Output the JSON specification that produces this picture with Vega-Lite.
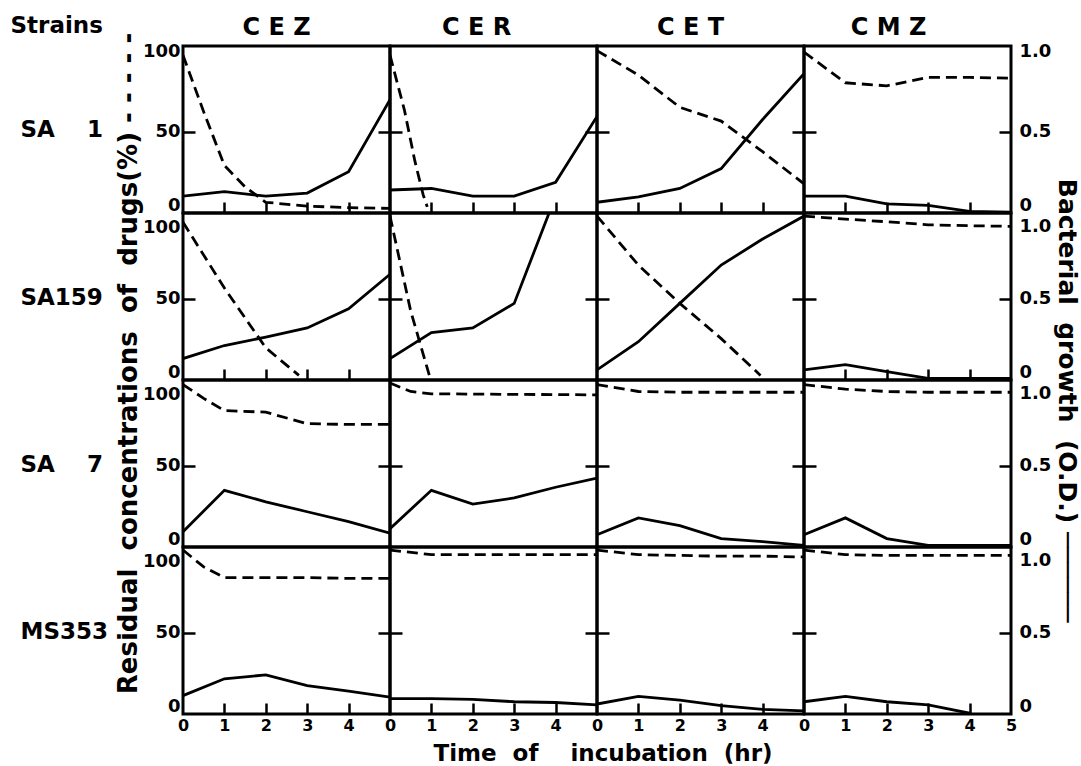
{
  "$schema": "https://vega.github.io/schema/vega-lite/v6.json",
  "background": "white",
  "padding": {"left": 8, "top": 13, "right": 2, "bottom": 2},
  "config": {
    "font": "DejaVu Sans",
    "view": {"stroke": "black", "strokeWidth": 3},
    "axis": {"domain": false, "grid": false, "tickColor": "black", "tickWidth": 2.5, "labelColor": "black", "labelFont": "DejaVu Sans", "labelFontWeight": "bold", "titleColor": "black", "titleFont": "DejaVu Sans", "titleFontWeight": "bold"},
    "line": {"color": "black", "strokeWidth": 2.8}
  },
  "datasets": {
    "conc": [
      {"s":"SA1","d":"CEZ","t":0,"v":100},{"s":"SA1","d":"CEZ","t":0.5,"v":63},{"s":"SA1","d":"CEZ","t":1,"v":28},{"s":"SA1","d":"CEZ","t":1.5,"v":14},{"s":"SA1","d":"CEZ","t":2,"v":4},{"s":"SA1","d":"CEZ","t":3,"v":1.5},{"s":"SA1","d":"CEZ","t":4,"v":0.5},{"s":"SA1","d":"CEZ","t":5,"v":0},
      {"s":"SA1","d":"CER","t":0,"v":100},{"s":"SA1","d":"CER","t":0.35,"v":64},{"s":"SA1","d":"CER","t":0.6,"v":31},{"s":"SA1","d":"CER","t":0.8,"v":9},{"s":"SA1","d":"CER","t":0.9,"v":1},
      {"s":"SA1","d":"CET","t":0,"v":103},{"s":"SA1","d":"CET","t":1,"v":87},{"s":"SA1","d":"CET","t":2,"v":66},{"s":"SA1","d":"CET","t":3,"v":57},{"s":"SA1","d":"CET","t":4,"v":37},{"s":"SA1","d":"CET","t":5,"v":16},
      {"s":"SA1","d":"CMZ","t":0,"v":102},{"s":"SA1","d":"CMZ","t":1,"v":82},{"s":"SA1","d":"CMZ","t":2,"v":80},{"s":"SA1","d":"CMZ","t":3,"v":85.5},{"s":"SA1","d":"CMZ","t":4,"v":85.5},{"s":"SA1","d":"CMZ","t":5,"v":85},
      {"s":"SA159","d":"CEZ","t":0,"v":100},{"s":"SA159","d":"CEZ","t":1,"v":57},{"s":"SA159","d":"CEZ","t":2,"v":18},{"s":"SA159","d":"CEZ","t":2.8,"v":0},
      {"s":"SA159","d":"CER","t":0,"v":104},{"s":"SA159","d":"CER","t":0.5,"v":42},{"s":"SA159","d":"CER","t":0.95,"v":0},
      {"s":"SA159","d":"CET","t":0,"v":104},{"s":"SA159","d":"CET","t":1,"v":72},{"s":"SA159","d":"CET","t":2,"v":47},{"s":"SA159","d":"CET","t":3,"v":24},{"s":"SA159","d":"CET","t":3.95,"v":0},
      {"s":"SA159","d":"CMZ","t":0,"v":104},{"s":"SA159","d":"CMZ","t":1,"v":102},{"s":"SA159","d":"CMZ","t":2,"v":100.3},{"s":"SA159","d":"CMZ","t":3,"v":98.3},{"s":"SA159","d":"CMZ","t":4,"v":97.7},{"s":"SA159","d":"CMZ","t":5,"v":97.3},
      {"s":"SA7","d":"CEZ","t":0,"v":103},{"s":"SA7","d":"CEZ","t":0.5,"v":94},{"s":"SA7","d":"CEZ","t":1,"v":86},{"s":"SA7","d":"CEZ","t":2,"v":85},{"s":"SA7","d":"CEZ","t":3,"v":77.5},{"s":"SA7","d":"CEZ","t":4,"v":77},{"s":"SA7","d":"CEZ","t":5,"v":77},
      {"s":"SA7","d":"CER","t":0,"v":104},{"s":"SA7","d":"CER","t":0.5,"v":98.5},{"s":"SA7","d":"CER","t":1,"v":97},{"s":"SA7","d":"CER","t":2,"v":96.8},{"s":"SA7","d":"CER","t":3,"v":96.6},{"s":"SA7","d":"CER","t":4,"v":96.5},{"s":"SA7","d":"CER","t":5,"v":96.3},
      {"s":"SA7","d":"CET","t":0,"v":103},{"s":"SA7","d":"CET","t":1,"v":98.5},{"s":"SA7","d":"CET","t":2,"v":98},{"s":"SA7","d":"CET","t":3,"v":98},{"s":"SA7","d":"CET","t":4,"v":98},{"s":"SA7","d":"CET","t":5,"v":98},
      {"s":"SA7","d":"CMZ","t":0,"v":103},{"s":"SA7","d":"CMZ","t":1,"v":100},{"s":"SA7","d":"CMZ","t":2,"v":98.5},{"s":"SA7","d":"CMZ","t":3,"v":98},{"s":"SA7","d":"CMZ","t":4,"v":98},{"s":"SA7","d":"CMZ","t":5,"v":98},
      {"s":"MS353","d":"CEZ","t":0,"v":104},{"s":"MS353","d":"CEZ","t":0.5,"v":93},{"s":"MS353","d":"CEZ","t":1,"v":86},{"s":"MS353","d":"CEZ","t":2,"v":86},{"s":"MS353","d":"CEZ","t":3,"v":86},{"s":"MS353","d":"CEZ","t":4,"v":85.5},{"s":"MS353","d":"CEZ","t":5,"v":85.5},
      {"s":"MS353","d":"CER","t":0,"v":104},{"s":"MS353","d":"CER","t":1,"v":101},{"s":"MS353","d":"CER","t":2,"v":101},{"s":"MS353","d":"CER","t":3,"v":101},{"s":"MS353","d":"CER","t":4,"v":101},{"s":"MS353","d":"CER","t":5,"v":101},
      {"s":"MS353","d":"CET","t":0,"v":104},{"s":"MS353","d":"CET","t":1,"v":101},{"s":"MS353","d":"CET","t":2,"v":100.5},{"s":"MS353","d":"CET","t":3,"v":100},{"s":"MS353","d":"CET","t":4,"v":100},{"s":"MS353","d":"CET","t":5,"v":99.5},
      {"s":"MS353","d":"CMZ","t":0,"v":104},{"s":"MS353","d":"CMZ","t":1,"v":101},{"s":"MS353","d":"CMZ","t":2,"v":100.5},{"s":"MS353","d":"CMZ","t":3,"v":100.5},{"s":"MS353","d":"CMZ","t":4,"v":100.5},{"s":"MS353","d":"CMZ","t":5,"v":100.5}
    ],
    "od": [
      {"s":"SA1","d":"CEZ","t":0,"v":0.08},{"s":"SA1","d":"CEZ","t":1,"v":0.11},{"s":"SA1","d":"CEZ","t":2,"v":0.08},{"s":"SA1","d":"CEZ","t":3,"v":0.10},{"s":"SA1","d":"CEZ","t":4,"v":0.24},{"s":"SA1","d":"CEZ","t":5,"v":0.71},
      {"s":"SA1","d":"CER","t":0,"v":0.12},{"s":"SA1","d":"CER","t":1,"v":0.13},{"s":"SA1","d":"CER","t":2,"v":0.08},{"s":"SA1","d":"CER","t":3,"v":0.08},{"s":"SA1","d":"CER","t":4,"v":0.17},{"s":"SA1","d":"CER","t":5,"v":0.60},
      {"s":"SA1","d":"CET","t":0,"v":0.04},{"s":"SA1","d":"CET","t":1,"v":0.075},{"s":"SA1","d":"CET","t":2,"v":0.13},{"s":"SA1","d":"CET","t":3,"v":0.26},{"s":"SA1","d":"CET","t":4,"v":0.58},{"s":"SA1","d":"CET","t":5,"v":0.88},
      {"s":"SA1","d":"CMZ","t":0,"v":0.08},{"s":"SA1","d":"CMZ","t":1,"v":0.08},{"s":"SA1","d":"CMZ","t":2,"v":0.03},{"s":"SA1","d":"CMZ","t":3,"v":0.02},{"s":"SA1","d":"CMZ","t":4,"v":-0.02},{"s":"SA1","d":"CMZ","t":5,"v":-0.025},
      {"s":"SA159","d":"CEZ","t":0,"v":0.11},{"s":"SA159","d":"CEZ","t":1,"v":0.195},{"s":"SA159","d":"CEZ","t":2,"v":0.25},{"s":"SA159","d":"CEZ","t":3,"v":0.31},{"s":"SA159","d":"CEZ","t":4,"v":0.435},{"s":"SA159","d":"CEZ","t":5,"v":0.66},
      {"s":"SA159","d":"CER","t":0,"v":0.11},{"s":"SA159","d":"CER","t":1,"v":0.28},{"s":"SA159","d":"CER","t":2,"v":0.31},{"s":"SA159","d":"CER","t":3,"v":0.47},{"s":"SA159","d":"CER","t":4,"v":1.17},
      {"s":"SA159","d":"CET","t":0,"v":0.036},{"s":"SA159","d":"CET","t":1,"v":0.22},{"s":"SA159","d":"CET","t":2,"v":0.47},{"s":"SA159","d":"CET","t":3,"v":0.72},{"s":"SA159","d":"CET","t":4,"v":0.89},{"s":"SA159","d":"CET","t":5,"v":1.04},
      {"s":"SA159","d":"CMZ","t":0,"v":0.036},{"s":"SA159","d":"CMZ","t":1,"v":0.07},{"s":"SA159","d":"CMZ","t":2,"v":0.025},{"s":"SA159","d":"CMZ","t":3,"v":-0.02},{"s":"SA159","d":"CMZ","t":4,"v":-0.02},{"s":"SA159","d":"CMZ","t":5,"v":-0.02},
      {"s":"SA7","d":"CEZ","t":0,"v":0.07},{"s":"SA7","d":"CEZ","t":1,"v":0.34},{"s":"SA7","d":"CEZ","t":2,"v":0.265},{"s":"SA7","d":"CEZ","t":3,"v":0.20},{"s":"SA7","d":"CEZ","t":4,"v":0.135},{"s":"SA7","d":"CEZ","t":5,"v":0.06},
      {"s":"SA7","d":"CER","t":0,"v":0.09},{"s":"SA7","d":"CER","t":1,"v":0.34},{"s":"SA7","d":"CER","t":2,"v":0.25},{"s":"SA7","d":"CER","t":3,"v":0.29},{"s":"SA7","d":"CER","t":4,"v":0.36},{"s":"SA7","d":"CER","t":5,"v":0.42},
      {"s":"SA7","d":"CET","t":0,"v":0.05},{"s":"SA7","d":"CET","t":1,"v":0.16},{"s":"SA7","d":"CET","t":2,"v":0.11},{"s":"SA7","d":"CET","t":3,"v":0.025},{"s":"SA7","d":"CET","t":4,"v":0.005},{"s":"SA7","d":"CET","t":5,"v":-0.02},
      {"s":"SA7","d":"CMZ","t":0,"v":0.05},{"s":"SA7","d":"CMZ","t":1,"v":0.16},{"s":"SA7","d":"CMZ","t":2,"v":0.025},{"s":"SA7","d":"CMZ","t":3,"v":-0.02},{"s":"SA7","d":"CMZ","t":4,"v":-0.02},{"s":"SA7","d":"CMZ","t":5,"v":-0.02},
      {"s":"MS353","d":"CEZ","t":0,"v":0.09},{"s":"MS353","d":"CEZ","t":1,"v":0.20},{"s":"MS353","d":"CEZ","t":2,"v":0.225},{"s":"MS353","d":"CEZ","t":3,"v":0.155},{"s":"MS353","d":"CEZ","t":4,"v":0.12},{"s":"MS353","d":"CEZ","t":5,"v":0.08},
      {"s":"MS353","d":"CER","t":0,"v":0.07},{"s":"MS353","d":"CER","t":1,"v":0.07},{"s":"MS353","d":"CER","t":2,"v":0.065},{"s":"MS353","d":"CER","t":3,"v":0.05},{"s":"MS353","d":"CER","t":4,"v":0.045},{"s":"MS353","d":"CER","t":5,"v":0.03},
      {"s":"MS353","d":"CET","t":0,"v":0.035},{"s":"MS353","d":"CET","t":1,"v":0.085},{"s":"MS353","d":"CET","t":2,"v":0.06},{"s":"MS353","d":"CET","t":3,"v":0.025},{"s":"MS353","d":"CET","t":4,"v":0.0},{"s":"MS353","d":"CET","t":5,"v":-0.01},
      {"s":"MS353","d":"CMZ","t":0,"v":0.05},{"s":"MS353","d":"CMZ","t":1,"v":0.085},{"s":"MS353","d":"CMZ","t":2,"v":0.05},{"s":"MS353","d":"CMZ","t":3,"v":0.03},{"s":"MS353","d":"CMZ","t":4,"v":-0.025}
    ]
  },
  "columns": 4,
  "spacing": 0,
  "bounds": "flush",
  "concat": [
    {"width": 207, "height": 167, "resolve": {"scale": {"y": "independent"}, "axis": {"x": "independent"}},
     "layer": [
      {"data": {"name": "conc"}, "transform": [{"filter": "datum.s==='SA1' && datum.d==='CEZ'"}], "mark": {"type": "line", "strokeDash": [11, 6], "clip": true},
       "encoding": {"x": {"field": "t", "type": "quantitative", "scale": {"domain": [0, 5], "nice": false}, "axis": {"values": [1, 2, 3, 4], "labels": false, "tickSize": -11, "title": "SA\u00a0\u00a0\u00a0\u00a01", "titleX": -163, "titleY": -84, "titleAlign": "left", "titleBaseline": "middle", "titleAngle": 0, "titleFontSize": 23}},
                    "y": {"field": "v", "type": "quantitative", "scale": {"domain": [-3, 106], "nice": false, "zero": false}, "axis": {"values": [0, 50, 100], "tickSize": -12, "tickOpacity": {"condition": {"test": "datum.value===50", "value": 1}, "value": 0}, "labelOffset": {"condition": [{"test": "datum.value===0", "value": -3}, {"test": "datum.value===100", "value": -4}], "value": 0}, "labelFontSize": 18, "labelPadding": 15, "labelBaseline": "middle", "title": "Strains", "titleAngle": 0, "titleAlign": "left", "titleBaseline": "middle", "titleX": -173, "titleY": -20.5, "titleFontSize": 23}}}},
      {"data": {"name": "od"}, "transform": [{"filter": "datum.s==='SA1' && datum.d==='CEZ'"}], "mark": {"type": "line", "clip": true},
       "encoding": {"x": {"field": "t", "type": "quantitative", "axis": {"orient": "top", "ticks": false, "labels": false, "domain": false, "title": "C\u00a0E\u00a0Z", "titleX": 93, "titleY": -19, "titleAlign": "center", "titleBaseline": "middle", "titleAngle": 0, "titleFontSize": 24}},
                    "y": {"field": "v", "type": "quantitative", "scale": {"domain": [-0.03, 1.06], "nice": false, "zero": false}, "axis": {"orient": "right", "values": [0.5], "labels": false, "tickSize": -12, "title": null}}}}
     ]},
    {"width": 207, "height": 167, "resolve": {"scale": {"y": "independent"}, "axis": {"x": "independent"}},
     "layer": [
      {"data": {"name": "conc"}, "transform": [{"filter": "datum.s==='SA1' && datum.d==='CER'"}], "mark": {"type": "line", "strokeDash": [11, 6], "clip": true},
       "encoding": {"x": {"field": "t", "type": "quantitative", "scale": {"domain": [0, 5], "nice": false}, "axis": {"values": [1, 2, 3, 4], "labels": false, "tickSize": -11, "title": null}},
                    "y": {"field": "v", "type": "quantitative", "scale": {"domain": [-3, 106], "nice": false, "zero": false}, "axis": {"values": [50], "labels": false, "tickSize": -12, "title": null}}}},
      {"data": {"name": "od"}, "transform": [{"filter": "datum.s==='SA1' && datum.d==='CER'"}], "mark": {"type": "line", "clip": true},
       "encoding": {"x": {"field": "t", "type": "quantitative", "axis": {"orient": "top", "ticks": false, "labels": false, "domain": false, "title": "C\u00a0E\u00a0R", "titleX": 86, "titleY": -19, "titleAlign": "center", "titleBaseline": "middle", "titleAngle": 0, "titleFontSize": 24}},
                    "y": {"field": "v", "type": "quantitative", "scale": {"domain": [-0.03, 1.06], "nice": false, "zero": false}, "axis": {"orient": "right", "values": [0.5], "labels": false, "tickSize": -12, "title": null}}}}
     ]},
    {"width": 207, "height": 167, "resolve": {"scale": {"y": "independent"}, "axis": {"x": "independent"}},
     "layer": [
      {"data": {"name": "conc"}, "transform": [{"filter": "datum.s==='SA1' && datum.d==='CET'"}], "mark": {"type": "line", "strokeDash": [11, 6], "clip": true},
       "encoding": {"x": {"field": "t", "type": "quantitative", "scale": {"domain": [0, 5], "nice": false}, "axis": {"values": [1, 2, 3, 4], "labels": false, "tickSize": -11, "title": null}},
                    "y": {"field": "v", "type": "quantitative", "scale": {"domain": [-3, 106], "nice": false, "zero": false}, "axis": {"values": [50], "labels": false, "tickSize": -12, "title": null}}}},
      {"data": {"name": "od"}, "transform": [{"filter": "datum.s==='SA1' && datum.d==='CET'"}], "mark": {"type": "line", "clip": true},
       "encoding": {"x": {"field": "t", "type": "quantitative", "axis": {"orient": "top", "ticks": false, "labels": false, "domain": false, "title": "C\u00a0E\u00a0T", "titleX": 93, "titleY": -19, "titleAlign": "center", "titleBaseline": "middle", "titleAngle": 0, "titleFontSize": 24}},
                    "y": {"field": "v", "type": "quantitative", "scale": {"domain": [-0.03, 1.06], "nice": false, "zero": false}, "axis": {"orient": "right", "values": [0.5], "labels": false, "tickSize": -12, "title": null}}}}
     ]},
    {"width": 207, "height": 167, "resolve": {"scale": {"y": "independent"}, "axis": {"x": "independent"}},
     "layer": [
      {"data": {"name": "conc"}, "transform": [{"filter": "datum.s==='SA1' && datum.d==='CMZ'"}], "mark": {"type": "line", "strokeDash": [11, 6], "clip": true},
       "encoding": {"x": {"field": "t", "type": "quantitative", "scale": {"domain": [0, 5], "nice": false}, "axis": {"values": [1, 2, 3, 4], "labels": false, "tickSize": -11, "title": null}},
                    "y": {"field": "v", "type": "quantitative", "scale": {"domain": [-3, 106], "nice": false, "zero": false}, "axis": {"values": [50], "labels": false, "tickSize": -12, "title": null}}}},
      {"data": {"name": "od"}, "transform": [{"filter": "datum.s==='SA1' && datum.d==='CMZ'"}], "mark": {"type": "line", "clip": true},
       "encoding": {"x": {"field": "t", "type": "quantitative", "axis": {"orient": "top", "ticks": false, "labels": false, "domain": false, "title": "C\u00a0M\u00a0Z", "titleX": 84, "titleY": -19, "titleAlign": "center", "titleBaseline": "middle", "titleAngle": 0, "titleFontSize": 24}},
                    "y": {"field": "v", "type": "quantitative", "scale": {"domain": [-0.03, 1.06], "nice": false, "zero": false}, "axis": {"orient": "right", "values": [0, 0.5, 1], "tickSize": -12, "tickOpacity": {"condition": {"test": "datum.value===0.5", "value": 1}, "value": 0}, "labelOffset": {"condition": [{"test": "datum.value===0", "value": -3}, {"test": "datum.value===1", "value": -4}], "value": 0}, "labelExpr": "datum.value===0 ? '0' : format(datum.value, '.1f')", "labelFontSize": 18, "labelPadding": 20, "labelBaseline": "middle", "title": null}}}}
     ]},
    {"width": 207, "height": 167, "resolve": {"scale": {"y": "independent"}, "axis": {"x": "independent"}},
     "layer": [
      {"data": {"name": "conc"}, "transform": [{"filter": "datum.s==='SA159' && datum.d==='CEZ'"}], "mark": {"type": "line", "strokeDash": [11, 6], "clip": true},
       "encoding": {"x": {"field": "t", "type": "quantitative", "scale": {"domain": [0, 5], "nice": false}, "axis": {"values": [1, 2, 3, 4], "labels": false, "tickSize": -11, "title": null}},
                    "y": {"field": "v", "type": "quantitative", "scale": {"domain": [-3, 106], "nice": false, "zero": false}, "axis": {"values": [0, 50, 100], "tickSize": -12, "tickOpacity": {"condition": {"test": "datum.value===50", "value": 1}, "value": 0}, "labelOffset": {"condition": [{"test": "datum.value===0", "value": -3}, {"test": "datum.value===100", "value": 5}], "value": 0}, "labelFontSize": 18, "labelPadding": 15, "labelBaseline": "middle", "title": "SA159", "titleAngle": 0, "titleAlign": "left", "titleBaseline": "middle", "titleX": -163, "titleY": 84, "titleFontSize": 23}}}},
      {"data": {"name": "od"}, "transform": [{"filter": "datum.s==='SA159' && datum.d==='CEZ'"}], "mark": {"type": "line", "clip": true},
       "encoding": {"x": {"field": "t", "type": "quantitative", "axis": {"orient": "top", "ticks": false, "labels": false, "domain": false, "title": "Residual\u00a0\u00a0concentrations\u00a0\u00a0of\u00a0\u00a0drugs(%)\u00a0- - - - -", "titleX": -55, "titleY": 150, "titleAlign": "center", "titleBaseline": "middle", "titleAngle": -90, "titleFontSize": 26}},
                    "y": {"field": "v", "type": "quantitative", "scale": {"domain": [-0.03, 1.06], "nice": false, "zero": false}, "axis": {"orient": "right", "values": [0.5], "labels": false, "tickSize": -12, "title": null}}}}
     ]},
    {"width": 207, "height": 167, "resolve": {"scale": {"y": "independent"}},
     "layer": [
      {"data": {"name": "conc"}, "transform": [{"filter": "datum.s==='SA159' && datum.d==='CER'"}], "mark": {"type": "line", "strokeDash": [11, 6], "clip": true},
       "encoding": {"x": {"field": "t", "type": "quantitative", "scale": {"domain": [0, 5], "nice": false}, "axis": {"values": [1, 2, 3, 4], "labels": false, "tickSize": -11, "title": null}},
                    "y": {"field": "v", "type": "quantitative", "scale": {"domain": [-3, 106], "nice": false, "zero": false}, "axis": {"values": [50], "labels": false, "tickSize": -12, "title": null}}}},
      {"data": {"name": "od"}, "transform": [{"filter": "datum.s==='SA159' && datum.d==='CER'"}], "mark": {"type": "line", "clip": true},
       "encoding": {"x": {"field": "t", "type": "quantitative", "axis": null},
                    "y": {"field": "v", "type": "quantitative", "scale": {"domain": [-0.03, 1.06], "nice": false, "zero": false}, "axis": {"orient": "right", "values": [0.5], "labels": false, "tickSize": -12, "title": null}}}}
     ]},
    {"width": 207, "height": 167, "resolve": {"scale": {"y": "independent"}},
     "layer": [
      {"data": {"name": "conc"}, "transform": [{"filter": "datum.s==='SA159' && datum.d==='CET'"}], "mark": {"type": "line", "strokeDash": [11, 6], "clip": true},
       "encoding": {"x": {"field": "t", "type": "quantitative", "scale": {"domain": [0, 5], "nice": false}, "axis": {"values": [1, 2, 3, 4], "labels": false, "tickSize": -11, "title": null}},
                    "y": {"field": "v", "type": "quantitative", "scale": {"domain": [-3, 106], "nice": false, "zero": false}, "axis": {"values": [50], "labels": false, "tickSize": -12, "title": null}}}},
      {"data": {"name": "od"}, "transform": [{"filter": "datum.s==='SA159' && datum.d==='CET'"}], "mark": {"type": "line", "clip": true},
       "encoding": {"x": {"field": "t", "type": "quantitative", "axis": null},
                    "y": {"field": "v", "type": "quantitative", "scale": {"domain": [-0.03, 1.06], "nice": false, "zero": false}, "axis": {"orient": "right", "values": [0.5], "labels": false, "tickSize": -12, "title": null}}}}
     ]},
    {"width": 207, "height": 167, "resolve": {"scale": {"y": "independent"}, "axis": {"x": "independent"}},
     "layer": [
      {"data": {"name": "conc"}, "transform": [{"filter": "datum.s==='SA159' && datum.d==='CMZ'"}], "mark": {"type": "line", "strokeDash": [11, 6], "clip": true},
       "encoding": {"x": {"field": "t", "type": "quantitative", "scale": {"domain": [0, 5], "nice": false}, "axis": {"values": [1, 2, 3, 4], "labels": false, "tickSize": -11, "title": null}},
                    "y": {"field": "v", "type": "quantitative", "scale": {"domain": [-3, 106], "nice": false, "zero": false}, "axis": {"values": [50], "labels": false, "tickSize": -12, "title": null}}}},
      {"data": {"name": "od"}, "transform": [{"filter": "datum.s==='SA159' && datum.d==='CMZ'"}], "mark": {"type": "line", "clip": true},
       "encoding": {"x": {"field": "t", "type": "quantitative", "axis": {"orient": "top", "ticks": false, "labels": false, "domain": false, "title": "Bacterial\u00a0\u00a0growth\u00a0\u00a0(O.D.)\u00a0\u2500\u2500\u2500\u2500\u2500\u2500", "titleX": 262, "titleY": 187, "titleAlign": "center", "titleBaseline": "middle", "titleAngle": 90, "titleFontSize": 25}},
                    "y": {"field": "v", "type": "quantitative", "scale": {"domain": [-0.03, 1.06], "nice": false, "zero": false}, "axis": {"orient": "right", "values": [0, 0.5, 1], "tickSize": -12, "tickOpacity": {"condition": {"test": "datum.value===0.5", "value": 1}, "value": 0}, "labelOffset": {"condition": [{"test": "datum.value===0", "value": -3}, {"test": "datum.value===1", "value": 4}], "value": 0}, "labelExpr": "datum.value===0 ? '0' : format(datum.value, '.1f')", "labelFontSize": 18, "labelPadding": 20, "labelBaseline": "middle", "title": null}}}}
     ]},
    {"width": 207, "height": 167, "resolve": {"scale": {"y": "independent"}},
     "layer": [
      {"data": {"name": "conc"}, "transform": [{"filter": "datum.s==='SA7' && datum.d==='CEZ'"}], "mark": {"type": "line", "strokeDash": [11, 6], "clip": true},
       "encoding": {"x": {"field": "t", "type": "quantitative", "scale": {"domain": [0, 5], "nice": false}, "axis": {"values": [1, 2, 3, 4], "labels": false, "tickSize": -11, "title": null}},
                    "y": {"field": "v", "type": "quantitative", "scale": {"domain": [-3, 106], "nice": false, "zero": false}, "axis": {"values": [0, 50, 100], "tickSize": -12, "tickOpacity": {"condition": {"test": "datum.value===50", "value": 1}, "value": 0}, "labelOffset": {"condition": [{"test": "datum.value===0", "value": -3}, {"test": "datum.value===100", "value": 5}], "value": 0}, "labelFontSize": 18, "labelPadding": 15, "labelBaseline": "middle", "title": "SA\u00a0\u00a0\u00a0\u00a07", "titleAngle": 0, "titleAlign": "left", "titleBaseline": "middle", "titleX": -163, "titleY": 84, "titleFontSize": 23}}}},
      {"data": {"name": "od"}, "transform": [{"filter": "datum.s==='SA7' && datum.d==='CEZ'"}], "mark": {"type": "line", "clip": true},
       "encoding": {"x": {"field": "t", "type": "quantitative", "axis": null},
                    "y": {"field": "v", "type": "quantitative", "scale": {"domain": [-0.03, 1.06], "nice": false, "zero": false}, "axis": {"orient": "right", "values": [0.5], "labels": false, "tickSize": -12, "title": null}}}}
     ]},
    {"width": 207, "height": 167, "resolve": {"scale": {"y": "independent"}},
     "layer": [
      {"data": {"name": "conc"}, "transform": [{"filter": "datum.s==='SA7' && datum.d==='CER'"}], "mark": {"type": "line", "strokeDash": [11, 6], "clip": true},
       "encoding": {"x": {"field": "t", "type": "quantitative", "scale": {"domain": [0, 5], "nice": false}, "axis": {"values": [1, 2, 3, 4], "labels": false, "tickSize": -11, "title": null}},
                    "y": {"field": "v", "type": "quantitative", "scale": {"domain": [-3, 106], "nice": false, "zero": false}, "axis": {"values": [50], "labels": false, "tickSize": -12, "title": null}}}},
      {"data": {"name": "od"}, "transform": [{"filter": "datum.s==='SA7' && datum.d==='CER'"}], "mark": {"type": "line", "clip": true},
       "encoding": {"x": {"field": "t", "type": "quantitative", "axis": null},
                    "y": {"field": "v", "type": "quantitative", "scale": {"domain": [-0.03, 1.06], "nice": false, "zero": false}, "axis": {"orient": "right", "values": [0.5], "labels": false, "tickSize": -12, "title": null}}}}
     ]},
    {"width": 207, "height": 167, "resolve": {"scale": {"y": "independent"}},
     "layer": [
      {"data": {"name": "conc"}, "transform": [{"filter": "datum.s==='SA7' && datum.d==='CET'"}], "mark": {"type": "line", "strokeDash": [11, 6], "clip": true},
       "encoding": {"x": {"field": "t", "type": "quantitative", "scale": {"domain": [0, 5], "nice": false}, "axis": {"values": [1, 2, 3, 4], "labels": false, "tickSize": -11, "title": null}},
                    "y": {"field": "v", "type": "quantitative", "scale": {"domain": [-3, 106], "nice": false, "zero": false}, "axis": {"values": [50], "labels": false, "tickSize": -12, "title": null}}}},
      {"data": {"name": "od"}, "transform": [{"filter": "datum.s==='SA7' && datum.d==='CET'"}], "mark": {"type": "line", "clip": true},
       "encoding": {"x": {"field": "t", "type": "quantitative", "axis": null},
                    "y": {"field": "v", "type": "quantitative", "scale": {"domain": [-0.03, 1.06], "nice": false, "zero": false}, "axis": {"orient": "right", "values": [0.5], "labels": false, "tickSize": -12, "title": null}}}}
     ]},
    {"width": 207, "height": 167, "resolve": {"scale": {"y": "independent"}},
     "layer": [
      {"data": {"name": "conc"}, "transform": [{"filter": "datum.s==='SA7' && datum.d==='CMZ'"}], "mark": {"type": "line", "strokeDash": [11, 6], "clip": true},
       "encoding": {"x": {"field": "t", "type": "quantitative", "scale": {"domain": [0, 5], "nice": false}, "axis": {"values": [1, 2, 3, 4], "labels": false, "tickSize": -11, "title": null}},
                    "y": {"field": "v", "type": "quantitative", "scale": {"domain": [-3, 106], "nice": false, "zero": false}, "axis": {"values": [50], "labels": false, "tickSize": -12, "title": null}}}},
      {"data": {"name": "od"}, "transform": [{"filter": "datum.s==='SA7' && datum.d==='CMZ'"}], "mark": {"type": "line", "clip": true},
       "encoding": {"x": {"field": "t", "type": "quantitative", "axis": null},
                    "y": {"field": "v", "type": "quantitative", "scale": {"domain": [-0.03, 1.06], "nice": false, "zero": false}, "axis": {"orient": "right", "values": [0, 0.5, 1], "tickSize": -12, "tickOpacity": {"condition": {"test": "datum.value===0.5", "value": 1}, "value": 0}, "labelOffset": {"condition": [{"test": "datum.value===0", "value": -3}, {"test": "datum.value===1", "value": 4}], "value": 0}, "labelExpr": "datum.value===0 ? '0' : format(datum.value, '.1f')", "labelFontSize": 18, "labelPadding": 20, "labelBaseline": "middle", "title": null}}}}
     ]},
    {"width": 207, "height": 167, "resolve": {"scale": {"y": "independent"}, "axis": {"x": "independent"}},
     "layer": [
      {"data": {"name": "conc"}, "transform": [{"filter": "datum.s==='MS353' && datum.d==='CEZ'"}], "mark": {"type": "line", "strokeDash": [11, 6], "clip": true},
       "encoding": {"x": {"field": "t", "type": "quantitative", "scale": {"domain": [0, 5], "nice": false}, "axis": {"values": [1, 2, 3, 4], "labels": false, "tickSize": -11, "title": null}},
                    "y": {"field": "v", "type": "quantitative", "scale": {"domain": [-3, 106], "nice": false, "zero": false}, "axis": {"values": [0, 50, 100], "tickSize": -12, "tickOpacity": {"condition": {"test": "datum.value===50", "value": 1}, "value": 0}, "labelOffset": {"condition": [{"test": "datum.value===0", "value": -3}, {"test": "datum.value===100", "value": 5}], "value": 0}, "labelFontSize": 18, "labelPadding": 15, "labelBaseline": "middle", "title": "MS353", "titleAngle": 0, "titleAlign": "left", "titleBaseline": "middle", "titleX": -163, "titleY": 84, "titleFontSize": 23}}}},
      {"data": {"name": "od"}, "transform": [{"filter": "datum.s==='MS353' && datum.d==='CEZ'"}], "mark": {"type": "line", "clip": true},
       "encoding": {"x": {"field": "t", "type": "quantitative", "axis": {"orient": "bottom", "values": [0, 1, 2, 3, 4], "ticks": false, "domain": false, "labelFontSize": 16, "labelPadding": 3, "labelFlush": false, "labelBaseline": "top", "title": null}},
                    "y": {"field": "v", "type": "quantitative", "scale": {"domain": [-0.03, 1.06], "nice": false, "zero": false}, "axis": {"orient": "right", "values": [0.5], "labels": false, "tickSize": -12, "title": null}}}}
     ]},
    {"width": 207, "height": 167, "resolve": {"scale": {"y": "independent"}, "axis": {"x": "independent"}},
     "layer": [
      {"data": {"name": "conc"}, "transform": [{"filter": "datum.s==='MS353' && datum.d==='CER'"}], "mark": {"type": "line", "strokeDash": [11, 6], "clip": true},
       "encoding": {"x": {"field": "t", "type": "quantitative", "scale": {"domain": [0, 5], "nice": false}, "axis": {"values": [1, 2, 3, 4], "labels": false, "tickSize": -11, "title": null}},
                    "y": {"field": "v", "type": "quantitative", "scale": {"domain": [-3, 106], "nice": false, "zero": false}, "axis": {"values": [50], "labels": false, "tickSize": -12, "title": null}}}},
      {"data": {"name": "od"}, "transform": [{"filter": "datum.s==='MS353' && datum.d==='CER'"}], "mark": {"type": "line", "clip": true},
       "encoding": {"x": {"field": "t", "type": "quantitative", "axis": {"orient": "bottom", "values": [0, 1, 2, 3, 4], "ticks": false, "domain": false, "labelFontSize": 16, "labelPadding": 3, "labelFlush": false, "labelBaseline": "top", "title": null}},
                    "y": {"field": "v", "type": "quantitative", "scale": {"domain": [-0.03, 1.06], "nice": false, "zero": false}, "axis": {"orient": "right", "values": [0.5], "labels": false, "tickSize": -12, "title": null}}}}
     ]},
    {"width": 207, "height": 167, "resolve": {"scale": {"y": "independent"}, "axis": {"x": "independent"}},
     "layer": [
      {"data": {"name": "conc"}, "transform": [{"filter": "datum.s==='MS353' && datum.d==='CET'"}], "mark": {"type": "line", "strokeDash": [11, 6], "clip": true},
       "encoding": {"x": {"field": "t", "type": "quantitative", "scale": {"domain": [0, 5], "nice": false}, "axis": {"values": [1, 2, 3, 4], "labels": false, "tickSize": -11, "title": null}},
                    "y": {"field": "v", "type": "quantitative", "scale": {"domain": [-3, 106], "nice": false, "zero": false}, "axis": {"values": [50], "labels": false, "tickSize": -12, "title": null}}}},
      {"data": {"name": "od"}, "transform": [{"filter": "datum.s==='MS353' && datum.d==='CET'"}], "mark": {"type": "line", "clip": true},
       "encoding": {"x": {"field": "t", "type": "quantitative", "axis": {"orient": "bottom", "values": [0, 1, 2, 3, 4], "ticks": false, "domain": false, "labelFontSize": 16, "labelPadding": 3, "labelFlush": false, "labelBaseline": "top", "title": "Time\u00a0\u00a0of\u00a0\u00a0\u00a0\u00a0incubation\u00a0\u00a0(hr)", "titleX": 5.5, "titleY": 39, "titleAlign": "center", "titleBaseline": "middle", "titleAngle": 0, "titleFontSize": 23}},
                    "y": {"field": "v", "type": "quantitative", "scale": {"domain": [-0.03, 1.06], "nice": false, "zero": false}, "axis": {"orient": "right", "values": [0.5], "labels": false, "tickSize": -12, "title": null}}}}
     ]},
    {"width": 207, "height": 167, "resolve": {"scale": {"y": "independent"}, "axis": {"x": "independent"}},
     "layer": [
      {"data": {"name": "conc"}, "transform": [{"filter": "datum.s==='MS353' && datum.d==='CMZ'"}], "mark": {"type": "line", "strokeDash": [11, 6], "clip": true},
       "encoding": {"x": {"field": "t", "type": "quantitative", "scale": {"domain": [0, 5], "nice": false}, "axis": {"values": [1, 2, 3, 4], "labels": false, "tickSize": -11, "title": null}},
                    "y": {"field": "v", "type": "quantitative", "scale": {"domain": [-3, 106], "nice": false, "zero": false}, "axis": {"values": [50], "labels": false, "tickSize": -12, "title": null}}}},
      {"data": {"name": "od"}, "transform": [{"filter": "datum.s==='MS353' && datum.d==='CMZ'"}], "mark": {"type": "line", "clip": true},
       "encoding": {"x": {"field": "t", "type": "quantitative", "axis": {"orient": "bottom", "values": [0, 1, 2, 3, 4, 5], "ticks": false, "domain": false, "labelFontSize": 16, "labelPadding": 3, "labelFlush": false, "labelBaseline": "top", "title": null}},
                    "y": {"field": "v", "type": "quantitative", "scale": {"domain": [-0.03, 1.06], "nice": false, "zero": false}, "axis": {"orient": "right", "values": [0, 0.5, 1], "tickSize": -12, "tickOpacity": {"condition": {"test": "datum.value===0.5", "value": 1}, "value": 0}, "labelOffset": {"condition": [{"test": "datum.value===0", "value": -3}, {"test": "datum.value===1", "value": 4}], "value": 0}, "labelExpr": "datum.value===0 ? '0' : format(datum.value, '.1f')", "labelFontSize": 18, "labelPadding": 20, "labelBaseline": "middle", "title": null}}}}
     ]}
  ]
}
